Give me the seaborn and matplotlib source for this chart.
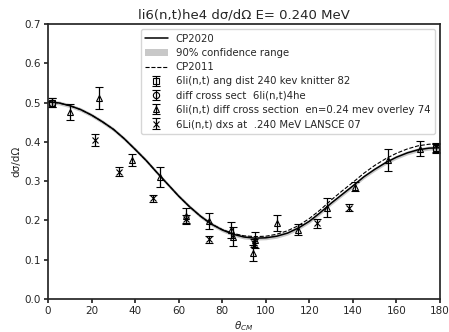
import matplotlib
matplotlib.use("Agg")
import matplotlib.pyplot as plt
import seaborn as sns
import numpy as np
import pandas as pd

# Evaluated curves (degrees, dsigma/dOmega)
theta = [0, 5, 10, 15, 20, 25, 30, 35, 40, 45, 50, 55, 60, 65, 70, 75, 80, 85, 90,
         95, 100, 105, 110, 115, 120, 125, 130, 135, 140, 145, 150, 155, 160, 165,
         170, 175, 180]
cp2020 = [0.502, 0.499, 0.492, 0.482, 0.468, 0.451, 0.432, 0.408, 0.381, 0.353,
          0.322, 0.292, 0.262, 0.235, 0.211, 0.191, 0.176, 0.165, 0.158, 0.155,
          0.156, 0.160, 0.168, 0.181, 0.198, 0.220, 0.244, 0.266, 0.288, 0.311,
          0.330, 0.347, 0.361, 0.372, 0.380, 0.384, 0.385]
cp2020_lo = [0.497, 0.494, 0.487, 0.477, 0.463, 0.446, 0.427, 0.403, 0.376, 0.348,
             0.317, 0.287, 0.257, 0.230, 0.206, 0.186, 0.171, 0.160, 0.153, 0.150,
             0.151, 0.155, 0.163, 0.176, 0.193, 0.215, 0.239, 0.261, 0.283, 0.306,
             0.325, 0.342, 0.356, 0.367, 0.375, 0.379, 0.380]
cp2020_hi = [0.507, 0.504, 0.497, 0.487, 0.473, 0.456, 0.437, 0.413, 0.386, 0.358,
             0.327, 0.297, 0.267, 0.240, 0.216, 0.196, 0.181, 0.170, 0.163, 0.160,
             0.161, 0.165, 0.173, 0.186, 0.203, 0.225, 0.249, 0.271, 0.293, 0.316,
             0.335, 0.352, 0.366, 0.377, 0.385, 0.389, 0.390]
cp2011 = [0.502, 0.499, 0.492, 0.482, 0.468, 0.451, 0.432, 0.408, 0.381, 0.353,
          0.322, 0.292, 0.262, 0.235, 0.211, 0.191, 0.177, 0.167, 0.161, 0.159,
          0.160, 0.165, 0.174, 0.187, 0.205, 0.227, 0.252, 0.275, 0.297, 0.320,
          0.340, 0.357, 0.371, 0.382, 0.390, 0.394, 0.395]

# Experimental data
knitter_x = [2, 178]
knitter_y = [0.500, 0.385]
knitter_e = [0.012, 0.012]

diff_x = [2, 178]
diff_y = [0.500, 0.383]
diff_e = [0.012, 0.012]

overley_x = [10, 23.5, 38.5, 51.5, 63.5, 74, 84, 85, 94, 95, 105, 115, 128, 141, 156, 171]
overley_y = [0.476, 0.511, 0.354, 0.310, 0.212, 0.199, 0.176, 0.159, 0.118, 0.150,
             0.193, 0.177, 0.233, 0.286, 0.354, 0.383]
overley_e = [0.020, 0.028, 0.015, 0.025, 0.020, 0.020, 0.020, 0.025, 0.020, 0.020,
             0.020, 0.015, 0.025, 0.012, 0.028, 0.020]

lansce_x = [21.5, 32.5, 48, 63.5, 74, 94.5, 123.5, 138]
lansce_y = [0.405, 0.324, 0.256, 0.203, 0.152, 0.143, 0.193, 0.233]
lansce_e = [0.015, 0.012, 0.010, 0.010, 0.008, 0.010, 0.012, 0.010]

sns.set_theme(style="ticks", rc={"font.size": 7.5, "axes.labelsize": 7.5,
                                 "xtick.labelsize": 7.5, "ytick.labelsize": 7.5,
                                 "axes.titlesize": 9.5, "legend.fontsize": 7.3,
                                 "xtick.major.size": 3, "ytick.major.size": 3,
                                 "xtick.major.pad": 2, "ytick.major.pad": 2,
                                 "axes.labelpad": 2})
plt.rcParams['font.family'] = ['DejaVu Sans']

fig = plt.figure(figsize=(4.49, 3.32), dpi=100)
ax = fig.add_axes([0.107, 0.099, 0.873, 0.829])

df = pd.DataFrame({"theta": theta, "cp2020": cp2020, "cp2011": cp2011})
sns.lineplot(data=df, x="theta", y="cp2020", ax=ax, color="black", lw=1.1,
             label="CP2020")
ax.fill_between(theta, cp2020_lo, cp2020_hi, color="#c8c8c8", lw=0,
                label="90% confidence range", zorder=1)
sns.lineplot(data=df, x="theta", y="cp2011", ax=ax, color="black", lw=0.8,
             linestyle="--", label="CP2011")

common = dict(ls="none", color="black", mfc="none", ms=4.5, capsize=3,
              elinewidth=0.9, mew=0.8)
ax.errorbar(knitter_x, knitter_y, yerr=knitter_e, marker="s",
            label="6li(n,t) ang dist 240 kev knitter 82", **common)
ax.errorbar(diff_x, diff_y, yerr=diff_e, marker="o",
            label="diff cross sect  6li(n,t)4he", **common)
ax.errorbar(overley_x, overley_y, yerr=overley_e, marker="^",
            label="6li(n,t) diff cross section  en=0.24 mev overley 74", **common)
ax.errorbar(lansce_x, lansce_y, yerr=lansce_e, marker="x",
            label="6Li(n,t) dxs at  .240 MeV LANSCE 07", **common)

ax.set_xlim(0, 180)
ax.set_ylim(0, 0.7)
ax.set_xticks(np.arange(0, 181, 20))
ax.set_yticks(np.arange(0, 0.71, 0.1))
ax.set_xlabel(r"$\theta_{CM}$")
ax.set_ylabel("dσ/dΩ")
ax.set_title("li6(n,t)he4 dσ/dΩ E= 0.240 MeV", pad=4)

handles, labels = ax.get_legend_handles_labels()
order = ["CP2020", "90% confidence range", "CP2011",
         "6li(n,t) ang dist 240 kev knitter 82", "diff cross sect  6li(n,t)4he",
         "6li(n,t) diff cross section  en=0.24 mev overley 74",
         "6Li(n,t) dxs at  .240 MeV LANSCE 07"]
hmap = dict(zip(labels, handles))
ax.legend([hmap[l] for l in order], order, loc="upper right",
          frameon=True, handlelength=2.2, labelspacing=0.42, borderpad=0.45)

fig.savefig("out.png", dpi=100)
